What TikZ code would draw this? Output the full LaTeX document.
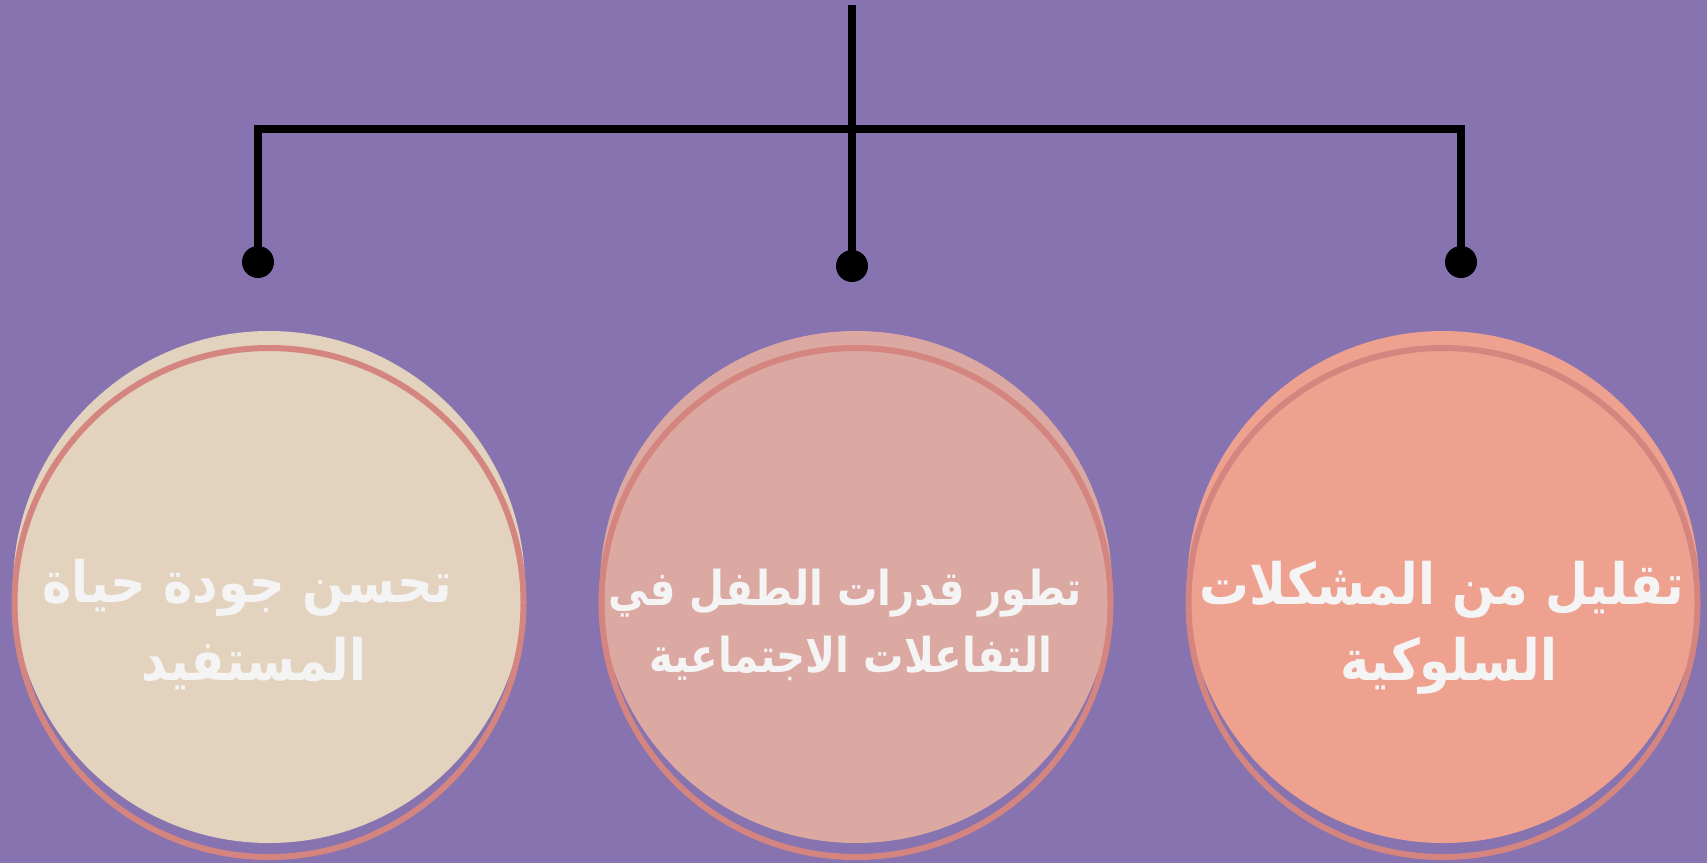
\documentclass[tikz,border=0pt]{standalone}
\usepackage{fontspec}
\TeXXeTstate=1
\newfontfamily\arabicfont[Script=Arabic]{DejaVu Sans}
\definecolor{bg}{HTML}{8673AF}
\definecolor{fillA}{HTML}{E3D2BD}
\definecolor{fillB}{HTML}{DCA8A2}
\definecolor{fillC}{HTML}{EFA190}
\definecolor{ringc}{HTML}{D4857F}
\definecolor{txt}{HTML}{F4F4F4}
\newcommand{\bigline}[1]{\scalebox{0.87}[1]{\beginR #1\endR}}
\newcommand{\midline}[1]{\scalebox{0.84}[1]{\beginR #1\endR}}
\tikzset{
  disc/.style={circle, minimum size=512pt, inner sep=0pt, draw=none},
  ring/.style={circle, minimum size=509pt, inner sep=0pt, draw=ringc, line width=6pt},
  conn/.style={line width=8pt, draw=black, line join=miter},
  dot/.style={circle, fill=black, minimum size=32pt, inner sep=0pt},
  bigtext/.style={anchor=base, text=txt, font=\arabicfont\bfseries\fontsize{57}{64}\selectfont},
  midtext/.style={anchor=base, text=txt, font=\arabicfont\bfseries\fontsize{48}{56}\selectfont},
}
\begin{document}
\begin{tikzpicture}[x=1pt,y=-1pt]
\fill[bg] (0,0) rectangle (1707,863);
\useasboundingbox (0,0) rectangle (1707,863);
% circles
\node[disc, fill=fillA] (cA) at (269,587) {};
\node[ring] (rA) at (269,602.5) {};
\node[disc, fill=fillB] (cB) at (856,587) {};
\node[ring] (rB) at (856,602.5) {};
\node[disc, fill=fillC] (cC) at (1443,587) {};
\node[ring] (rC) at (1443,602.5) {};
% texts
\node[bigtext] (tA1) at (247,602) {\bigline{تحسن جودة حياة}};
\node[bigtext] (tA2) at (254,680) {\bigline{المستفيد}};
\node[midtext] (tB1) at (845,605) {\midline{تطور قدرات الطفل في}};
\node[midtext] (tB2) at (851,672) {\midline{التفاعلات الاجتماعية}};
\node[bigtext] (tC1) at (1442,604) {\bigline{تقليل من المشكلات}};
\node[bigtext] (tC2) at (1449,680) {\bigline{السلوكية}};
% connectors
\coordinate (top) at (852,5);
\coordinate (J) at (852,129);
\node[dot] (dL) at (258,262) {};
\node[dot] (dM) at (852,266) {};
\node[dot] (dR) at (1461,262) {};
\draw[conn] (top) -- (dM.center);
\draw[conn] (dL.center) |- (J) -| (dR.center);
\end{tikzpicture}
\end{document}
